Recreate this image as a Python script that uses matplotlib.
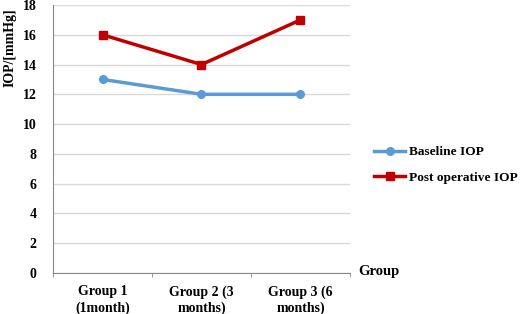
import numpy as np
import matplotlib.pyplot as plt

plt.rcParams['font.family'] = 'Liberation Serif'
plt.rcParams['font.weight'] = 'bold'

groups = ['Group 1\n(1month)', 'Group 2 (3\nmonths)', 'Group 3 (6\nmonths)']
baseline = [13, 12, 12]
postop = [16, 14, 17]
yticks = np.arange(0, 19, 2)

fig = plt.figure(figsize=(5.2, 3.14), dpi=100)
ax = fig.add_axes([0.102, 0.131, 0.571, 0.853])

x = np.arange(len(groups))
ax.plot(x, baseline, color='#5B9BD5', lw=2.5, marker='o', ms=5.5, label='Baseline IOP')
ax.plot(x, postop, color='#C00000', lw=2.5, marker='s', ms=5.5, label='Post operative IOP')

ax.set_xlim(-0.5, 2.5)
ax.set_ylim(0, 18)
ax.set_yticks(yticks)
ax.set_xticks(x)
ax.set_xticklabels(groups, fontsize=10, fontweight='bold', linespacing=1.3)
ax.set_xticks([-0.5, 0.5, 1.5, 2.5], minor=True)
ax.tick_params(axis='x', which='major', length=0, pad=9)
ax.tick_params(axis='x', which='minor', length=3, color='#888888')
ax.tick_params(axis='y', length=0, labelsize=10, pad=12)
for lab in ax.get_yticklabels():
    lab.set_fontweight('bold')
ax.yaxis.grid(True, color='#D9D9D9', lw=1)
ax.set_axisbelow(True)
for s in ['top', 'right']:
    ax.spines[s].set_visible(False)
ax.spines['left'].set_color('#888888')
ax.spines['bottom'].set_color('#888888')

fig.text(0.02, 0.972, 'IOP/[mmHg]', rotation=90, ha='center', va='top', fontsize=10, fontweight='bold')
fig.text(0.688, 0.135, 'Group', ha='left', va='center', fontsize=10.5, fontweight='bold')

fig.legend(loc='center left', bbox_to_anchor=(0.72, 0.475), frameon=False,
           handlelength=2.3, handletextpad=0.3, labelspacing=1.0, borderpad=0, borderaxespad=0,
           prop={'weight': 'bold', 'size': 9.6})

fig.savefig('out.png', dpi=100)
